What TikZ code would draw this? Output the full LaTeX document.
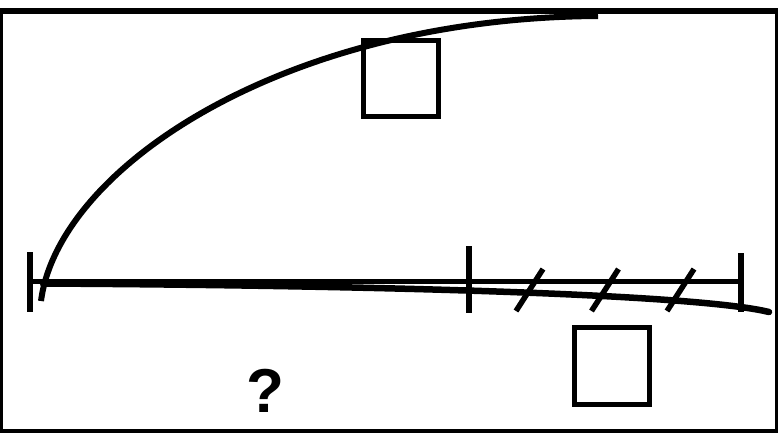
\documentclass[tikz,border=0pt]{standalone}
\usepackage{fontspec}
\setmainfont{Liberation Sans}
\begin{document}
\begin{tikzpicture}[x=1pt,y=-1pt,
  stroke/.style={line width=6pt,black},
  tickmark/.style={line width=6pt,black},
  hatchmark/.style={line width=5.5pt,black},
  boxmark/.style={draw=black,line width=5.5pt,minimum width=75pt,minimum height=76pt,inner sep=0pt,fill=none},
  qmark/.style={font=\bfseries\fontsize{62}{62}\selectfont,inner sep=0pt}]
\useasboundingbox (0,0) rectangle (778,432);
\clip (0,0) rectangle (778,432);
% frame
\draw[line width=6pt] (0,11) rectangle (778,432);
% upward curve
\draw[stroke] (41,301) .. controls (58,170) and (280,18) .. (598,16);
% straight axis
\draw[line width=5.5pt] (30,281.5) -- (741,281.5);
% drooping curve
\draw[line width=6.5pt,line cap=round] (43,283.5) .. controls (400,285.5) and (700,295) .. (769,312);
% ticks
\draw[tickmark] (30,252) -- (30,312);
\draw[tickmark] (469,246) -- (469,313);
\draw[tickmark] (741,253) -- (741,312);
% hatches
\draw[hatchmark] (516,311) -- (543,269);
\draw[hatchmark] (591.5,311) -- (618.5,269);
\draw[hatchmark] (667,311) -- (694,269);
% squares
\node[boxmark] (sqtop) at (401,78.5) {};
\node[boxmark,minimum height=77pt] (sqbot) at (612,366) {};
% question mark
\node[qmark] (q) at (265,390.5) {?};
\end{tikzpicture}
\end{document}
